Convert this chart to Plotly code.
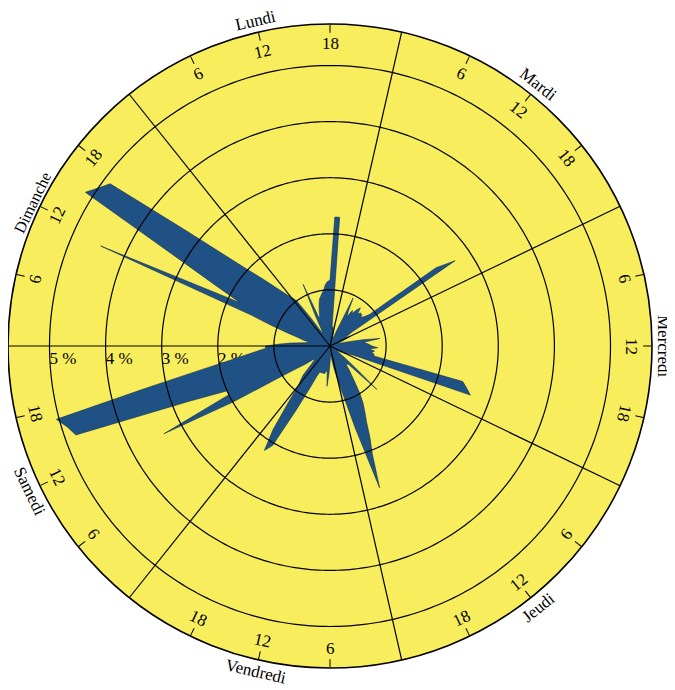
import math
import plotly.graph_objects as go

# ---------------- data (percent of weekly total, per hour) ----------------
days = ["Lundi", "Mardi", "Mercredi", "Jeudi", "Vendredi", "Samedi", "Dimanche"]
hour_ticks = [6, 12, 18]
pct_ticks = [1, 2, 3, 4, 5]
pct_labels = ["1 %", "2 %", "3 %", "4 %", "5 %"]

lundi = [1.12, 1.0, 0.6, 0.35, 0.25, 0.3, 0.6, 1.2, 0.55, 0.55, 0.65, 0.75,
         0.85, 0.9, 0.95, 1.0, 1.1, 1.15, 1.17, 2.3, 2.3, 0.3, 0.35, 0.3]
mardi = [0.3, 0.2, 0.15, 0.12, 0.12, 0.3, 0.95, 0.7, 0.6, 0.75, 0.7, 0.8,
         0.87, 0.75, 0.8, 0.8, 0.75, 0.8, 0.9, 2.35, 2.7, 0.45, 0.35, 0.3]
mercredi = [0.4, 0.3, 0.2, 0.15, 0.15, 0.2, 0.35, 0.6, 0.9, 0.6, 0.65, 0.7,
            0.75, 0.85, 0.7, 0.8, 0.75, 0.8, 0.8, 2.45, 2.55, 2.65, 0.45, 0.35]
jeudi = [0.3, 0.25, 0.2, 0.15, 0.15, 0.2, 0.35, 0.6, 1.14, 0.45, 0.45, 0.45,
         0.55, 0.65, 0.8, 1.0, 1.18, 1.33, 1.5, 1.78, 2.06, 2.68, 1.55, 0.9]
vendredi = [0.62, 0.45, 0.3, 0.2, 0.15, 0.2, 0.3, 0.5, 0.72, 0.45, 0.45, 0.5,
            0.5, 0.5, 0.5, 0.5, 0.5, 0.6, 0.85, 1.3, 2.05, 2.2, 1.8, 1.25]
samedi = [0.9, 0.8, 0.7, 0.5, 0.4, 0.35, 0.4, 0.55, 0.7, 1.0, 2.0, 3.35,
          2.0, 2.0, 2.7, 4.8, 4.9, 5.05, 3.34, 2.41, 1.88, 1.55, 1.32, 1.15]
dimanche = [1.15, 0.9, 0.7, 0.5, 0.4, 0.4, 0.5, 0.6, 0.8, 1.1, 1.5, 4.46,
            1.78, 2.29, 3.15, 5.15, 5.0, 4.87, 3.36, 2.5, 2.0, 1.68, 1.43, 1.24]

values = [lundi, mardi, mercredi, jeudi, vendredi, samedi, dimanche]

# ---------------- geometry / styles ----------------
W, H = 667, 682                      # page adds an 8px body margin
CX, CY, RPX = 322, 338, 322          # circle centre and radius in figure pixels
ML, MT = CX - RPX, CY - RPX
MR, MB = W - (CX + RPX), H - (CY + RPX)
RMAX = 5.74                          # outer circle in percent
PX_PER_PCT = RPX / RMAX
DAY_SPAN = 360 / 7
START = 270 + DAY_SPAN               # angle (clockwise from top) where Lundi starts
YELLOW = "#f8ed5c"
BLUE = "#1f5185"
FONT = "Liberation Serif"
DAY_LABEL_R = {"Dimanche": 330}      # label close to the page edge
DAY_LABEL_SIZE = {"Dimanche": 16}


def theta_of(d, h):
    return (START + d * DAY_SPAN + h * DAY_SPAN / 24) % 360


r_all, th_all = [], []
for d, vals in enumerate(values):
    for h, v in enumerate(vals):
        r_all.append(v)
        th_all.append(theta_of(d, h))
r_all.append(r_all[0])
th_all.append(th_all[0])

fig = go.Figure()

# percent labels (under the band, as in the original); anchored a few px below the axis line
LABEL_DROP = 5
fig.add_trace(go.Scatterpolar(
    r=pct_ticks,
    theta=[270 - math.degrees(math.asin(LABEL_DROP / (k * PX_PER_PCT))) for k in pct_ticks],
    mode="text", text=pct_labels,
    textposition="bottom right", textfont=dict(family=FONT, size=17, color="black"),
    hoverinfo="skip"))

# the band
fig.add_trace(go.Scatterpolar(
    r=r_all, theta=th_all, mode="lines", fill="toself", fillcolor=BLUE,
    line=dict(color="#12304f", width=0.6), hoverinfo="skip"))

# grid circles on top
circ_th = [i for i in range(0, 361)]
for k in pct_ticks:
    fig.add_trace(go.Scatterpolar(
        r=[k] * len(circ_th), theta=circ_th, mode="lines",
        line=dict(color="black", width=1.2), hoverinfo="skip"))

# day boundaries on top
for d in range(7):
    a = theta_of(d, 0)
    fig.add_trace(go.Scatterpolar(
        r=[0, RMAX], theta=[a, a], mode="lines",
        line=dict(color="black", width=1.2), hoverinfo="skip"))

tickvals = [theta_of(d, h) for d in range(7) for h in hour_ticks]

fig.update_layout(
    width=W, height=H,
    margin=dict(l=ML, r=MR, t=MT, b=MB, pad=0),
    paper_bgcolor="white", plot_bgcolor="white", showlegend=False,
    polar=dict(
        bgcolor=YELLOW,
        domain=dict(x=[0, 1], y=[0, 1]),
        radialaxis=dict(range=[0, RMAX], showgrid=False, showline=False,
                        showticklabels=False, ticks=""),
        angularaxis=dict(rotation=90, direction="clockwise", thetaunit="degrees",
                         showgrid=False, showline=True, linecolor="black", linewidth=1.6,
                         ticks="inside", ticklen=8, tickwidth=1.2, tickcolor="black",
                         tickmode="array", tickvals=tickvals, showticklabels=False),
    ),
)

PW, PH = W - ML - MR, H - MT - MB


def to_paper(theta, rpx):
    t = math.radians(theta)
    px = CX + rpx * math.sin(t)
    py = CY - rpx * math.cos(t)
    return (px - ML) / PW, (H - MB - py) / PH


def text_angle(theta):
    a = theta % 360
    if 120 < a < 270:
        a -= 180
    if a > 180:
        a -= 360
    return a


annotations = []
for d, name in enumerate(days):
    mid = theta_of(d, 12)
    x, y = to_paper(mid, DAY_LABEL_R.get(name, 334))
    annotations.append(dict(x=x, y=y, xref="paper", yref="paper", text=name,
                            showarrow=False, textangle=text_angle(mid),
                            xanchor="center", yanchor="middle",
                            font=dict(family=FONT, size=DAY_LABEL_SIZE.get(name, 17),
                                      color="black")))
    for h in hour_ticks:
        a = theta_of(d, h)
        x, y = to_paper(a, 302)
        annotations.append(dict(x=x, y=y, xref="paper", yref="paper", text=str(h),
                                showarrow=False, textangle=text_angle(a),
                                xanchor="center", yanchor="middle",
                                font=dict(family=FONT, size=17, color="black")))
fig.update_layout(annotations=annotations)

fig.write_html("out.html")
